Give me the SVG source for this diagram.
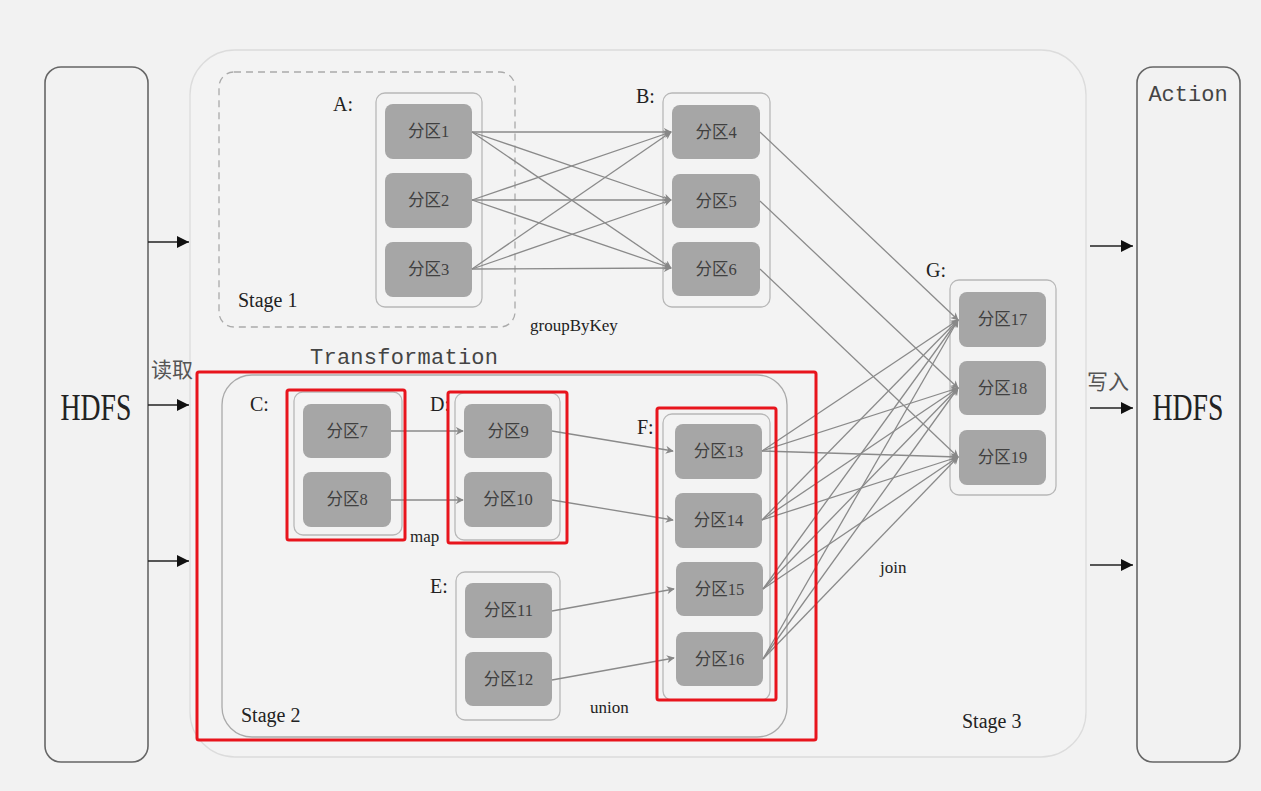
<svg xmlns="http://www.w3.org/2000/svg" width="1261" height="791" viewBox="0 0 1261 791">
<defs>
<marker id="ga" viewBox="0 0 10 10" refX="9" refY="5" markerWidth="8" markerHeight="8" markerUnits="userSpaceOnUse" orient="auto"><path d="M0,0 L10,5 L0,10 L3,5 Z" fill="#888"/></marker>
<marker id="ba" viewBox="0 0 10 10" refX="10" refY="5" markerWidth="14" markerHeight="12" markerUnits="userSpaceOnUse" orient="auto"><path d="M0,0 L10,5 L0,10 Z" fill="#111"/></marker>
</defs>
<style>
.bg{fill:#f2f2f2}
.hdfs{fill:#f2f2f2;stroke:#666;stroke-width:1.6}
.grp{fill:none;stroke:#b8b8b8;stroke-width:1.3}
.p{fill:#a6a6a6}
.pt{font-family:"Liberation Serif","Noto Sans CJK SC",serif;font-size:16.5px;fill:#404040;text-anchor:middle;dominant-baseline:central}
.lbl{font-family:"Liberation Serif",serif;font-size:20px;fill:#222}
.op{font-family:"Liberation Serif",serif;font-size:17px;fill:#222}
.mono{font-family:"Liberation Mono",monospace;font-size:22px;fill:#444}
.cn{font-family:"Noto Sans CJK SC",sans-serif;font-size:21px;fill:#555}
.big{font-family:"Liberation Serif",serif;font-size:37px;fill:#222;text-anchor:middle}
.red{fill:none;stroke:#e8141c;stroke-width:3}
.c{stroke:#8a8a8a;stroke-width:1.3;fill:none;marker-end:url(#ga)}
.bk{stroke:#222;stroke-width:1.6;fill:none;marker-end:url(#ba)}
</style>
<rect class="bg" x="0" y="0" width="1261" height="791"/>

<g id="stage3">
<rect x="190" y="50" width="896" height="707" rx="45" fill="#f3f3f3" stroke="#dcdcdc" stroke-width="1.3"/>
<text class="lbl" x="962" y="728">Stage 3</text>
<text class="op" x="880" y="573">join</text>
</g>

<g id="hdfs-in">
<rect class="hdfs" x="45" y="67" width="103" height="695" rx="16"/>
<text class="big" x="96" y="420" textLength="71" lengthAdjust="spacingAndGlyphs">HDFS</text>
</g>
<g id="hdfs-out">
<rect class="hdfs" x="1137" y="67" width="103" height="695" rx="16"/>
<text class="mono" x="1188" y="101" text-anchor="middle">Action</text>
<text class="big" x="1188" y="420" textLength="71" lengthAdjust="spacingAndGlyphs">HDFS</text>
</g>

<text class="cn" x="151" y="377">读取</text>
<text class="cn" x="1087" y="389">写入</text>
<text class="mono" x="310" y="364" textLength="188">Transformation</text>

<g id="stage1">
<rect x="219" y="72" width="296" height="255" rx="15" fill="none" stroke="#aaa" stroke-width="1.3" stroke-dasharray="7,5"/>
<text class="lbl" x="238" y="307">Stage 1</text>
</g>

<g id="stage2">
<rect x="222" y="375" width="565" height="362" rx="30" fill="none" stroke="#aaa" stroke-width="1.3"/>
<text class="lbl" x="241" y="722">Stage 2</text>
<text class="op" x="410" y="542">map</text>
<text class="op" x="590" y="713">union</text>
</g>

<g id="A">
<text class="lbl" x="333" y="111">A:</text>
<rect class="grp" x="376" y="93" width="106" height="214" rx="9"/>
<rect class="p" x="385" y="104" width="87" height="55" rx="8"/><text class="pt" x="428.5" y="131.5">分区1</text>
<rect class="p" x="385" y="173" width="87" height="55" rx="8"/><text class="pt" x="428.5" y="200.5">分区2</text>
<rect class="p" x="385" y="242" width="87" height="55" rx="8"/><text class="pt" x="428.5" y="269.5">分区3</text>
</g>
<g id="B">
<text class="lbl" x="636" y="103">B:</text>
<rect class="grp" x="663" y="93" width="107" height="214" rx="9"/>
<rect class="p" x="672" y="105" width="88" height="54" rx="8"/><text class="pt" x="716" y="132">分区4</text>
<rect class="p" x="672" y="174" width="88" height="54" rx="8"/><text class="pt" x="716" y="201">分区5</text>
<rect class="p" x="672" y="242" width="88" height="54" rx="8"/><text class="pt" x="716" y="269">分区6</text>
</g>
<text class="op" x="530" y="331">groupByKey</text>

<g id="G">
<text class="lbl" x="926" y="277">G:</text>
<rect class="grp" x="950" y="280" width="106" height="215" rx="9"/>
<rect class="p" x="959" y="292" width="87" height="55" rx="8"/><text class="pt" x="1002.5" y="319.5">分区17</text>
<rect class="p" x="959" y="361" width="87" height="54" rx="8"/><text class="pt" x="1002.5" y="388">分区18</text>
<rect class="p" x="959" y="430" width="87" height="55" rx="8"/><text class="pt" x="1002.5" y="457.5">分区19</text>
</g>

<g id="C">
<text class="lbl" x="250" y="411">C:</text>
<rect class="grp" x="294" y="392" width="108" height="143" rx="9"/>
<rect class="p" x="303" y="404" width="88" height="54" rx="8"/><text class="pt" x="347" y="431">分区7</text>
<rect class="p" x="303" y="472" width="88" height="55" rx="8"/><text class="pt" x="347" y="499.5">分区8</text>
</g>
<g id="D">
<text class="lbl" x="430" y="411">D:</text>
<rect class="grp" x="455" y="393" width="105" height="147" rx="9"/>
<rect class="p" x="464" y="404" width="88" height="54" rx="8"/><text class="pt" x="508" y="431">分区9</text>
<rect class="p" x="464" y="472" width="88" height="55" rx="8"/><text class="pt" x="508" y="499.5">分区10</text>
</g>
<g id="E">
<text class="lbl" x="430" y="593">E:</text>
<rect class="grp" x="456" y="572" width="104" height="148" rx="9"/>
<rect class="p" x="465" y="583" width="87" height="55" rx="8"/><text class="pt" x="508.5" y="610.5">分区11</text>
<rect class="p" x="465" y="652" width="87" height="54" rx="8"/><text class="pt" x="508.5" y="679">分区12</text>
</g>
<g id="F">
<text class="lbl" x="637" y="434">F:</text>
<rect class="grp" x="663" y="414" width="107" height="286" rx="9"/>
<rect class="p" x="675" y="424" width="87" height="55" rx="8"/><text class="pt" x="718.5" y="451.5">分区13</text>
<rect class="p" x="675" y="493" width="87" height="55" rx="8"/><text class="pt" x="718.5" y="520.5">分区14</text>
<rect class="p" x="676" y="562" width="87" height="54" rx="8"/><text class="pt" x="719.5" y="589">分区15</text>
<rect class="p" x="676" y="632" width="87" height="54" rx="8"/><text class="pt" x="719.5" y="659">分区16</text>
</g>

<g id="connectors">
<line class="bk" x1="148" y1="242" x2="189" y2="242"/>
<line class="bk" x1="148" y1="405" x2="189" y2="405"/>
<line class="bk" x1="148" y1="561" x2="189" y2="561"/>
<line class="bk" x1="1090" y1="246" x2="1133" y2="246"/>
<line class="bk" x1="1090" y1="408" x2="1133" y2="408"/>
<line class="bk" x1="1090" y1="565" x2="1133" y2="565"/>

<line class="c" x1="472" y1="132" x2="671" y2="132"/>
<line class="c" x1="472" y1="132" x2="671" y2="200"/>
<line class="c" x1="472" y1="132" x2="671" y2="268"/>
<line class="c" x1="472" y1="200" x2="671" y2="132"/>
<line class="c" x1="472" y1="200" x2="671" y2="200"/>
<line class="c" x1="472" y1="200" x2="671" y2="268"/>
<line class="c" x1="472" y1="269" x2="671" y2="132"/>
<line class="c" x1="472" y1="269" x2="671" y2="200"/>
<line class="c" x1="472" y1="269" x2="671" y2="268"/>

<line class="c" x1="760" y1="132" x2="958" y2="320"/>
<line class="c" x1="760" y1="201" x2="958" y2="388"/>
<line class="c" x1="760" y1="269" x2="958" y2="457"/>

<line class="c" x1="391" y1="431" x2="463" y2="431"/>
<line class="c" x1="391" y1="500" x2="463" y2="500"/>
<line class="c" x1="552" y1="431" x2="673" y2="451"/>
<line class="c" x1="552" y1="500" x2="673" y2="520"/>
<line class="c" x1="552" y1="611" x2="674" y2="589"/>
<line class="c" x1="552" y1="680" x2="674" y2="658"/>

<line class="c" x1="762" y1="451" x2="958" y2="320"/>
<line class="c" x1="762" y1="451" x2="958" y2="388"/>
<line class="c" x1="762" y1="451" x2="958" y2="457"/>
<line class="c" x1="762" y1="520" x2="958" y2="320"/>
<line class="c" x1="762" y1="520" x2="958" y2="388"/>
<line class="c" x1="762" y1="520" x2="958" y2="457"/>
<line class="c" x1="763" y1="589" x2="958" y2="320"/>
<line class="c" x1="763" y1="589" x2="958" y2="388"/>
<line class="c" x1="763" y1="589" x2="958" y2="457"/>
<line class="c" x1="763" y1="659" x2="958" y2="320"/>
<line class="c" x1="763" y1="659" x2="958" y2="388"/>
<line class="c" x1="763" y1="659" x2="958" y2="457"/>
</g>

<g id="highlights">
<rect class="red" x="197" y="372" width="619" height="368" rx="2"/>
<rect class="red" x="287" y="390" width="118" height="150" rx="2"/>
<rect class="red" x="448" y="392" width="119" height="151" rx="2"/>
<rect class="red" x="657" y="408" width="119" height="292" rx="2"/>
</g>
</svg>
